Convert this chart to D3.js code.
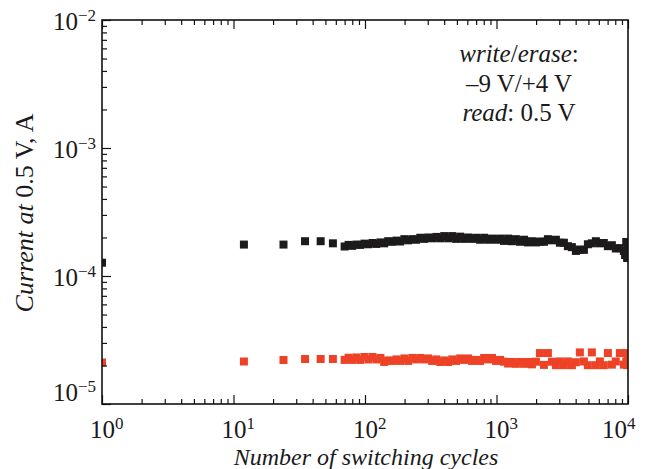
<!DOCTYPE html>
<html>
<head>
<meta charset="utf-8">
<script src="https://cdn.jsdelivr.net/npm/d3@7"></script>
<style>
  html, body { margin: 0; padding: 0; background: #fff; }
  svg { display: block; }
</style>
</head>
<body>
<svg id="chart" width="657" height="469"></svg>
<script>
// ---- data ----
const cycles = [1, 12, 24, 35, 46, 57,
  70, 75, 80, 86, 92, 99, 106, 114, 122, 131,
  140, 150, 161, 173, 185, 199, 213, 229, 245, 263,
  282, 302, 324, 348, 373, 400, 429, 460, 493, 529,
  567, 608, 652, 700, 750, 805, 863, 925, 992, 1065,
  1140, 1225, 1310, 1405, 1510, 1620, 1735, 1860, 1995, 2140,
  2295, 2460, 2640, 2830, 3035, 3255, 3490, 3745, 4015, 4305,
  4620, 4955, 5310, 5700, 6110, 6550, 7030, 7540, 8080, 8670,
  9300, 9500, 9700, 9850, 10000];

const blackCurrent = [1.27e-4, 1.76e-4, 1.76e-4, 1.87e-4, 1.87e-4, 1.80e-4,
  1.70e-4, 1.75e-4, 1.72e-4, 1.76e-4, 1.75e-4, 1.79e-4, 1.77e-4, 1.81e-4, 1.78e-4, 1.83e-4,
  1.80e-4, 1.87e-4, 1.85e-4, 1.89e-4, 1.86e-4, 1.94e-4, 1.90e-4, 1.94e-4, 1.92e-4, 1.99e-4,
  1.95e-4, 2.00e-4, 1.97e-4, 2.02e-4, 1.97e-4, 2.05e-4, 1.97e-4, 2.05e-4, 1.95e-4, 2.03e-4,
  1.95e-4, 2.00e-4, 1.95e-4, 1.99e-4, 1.92e-4, 1.99e-4, 1.92e-4, 1.96e-4, 1.92e-4, 1.96e-4,
  1.88e-4, 1.96e-4, 1.87e-4, 1.94e-4, 1.85e-4, 1.92e-4, 1.83e-4, 1.87e-4, 1.83e-4, 1.86e-4,
  1.85e-4, 1.94e-4, 1.90e-4, 1.92e-4, 1.82e-4, 1.82e-4, 1.71e-4, 1.68e-4, 1.57e-4, 1.61e-4,
  1.60e-4, 1.77e-4, 1.80e-4, 1.87e-4, 1.80e-4, 1.81e-4, 1.71e-4, 1.74e-4, 1.64e-4, 1.65e-4,
  1.568e-4, 1.459e-4, 1.844e-4, 1.382e-4, 1.685e-4];

const redCurrent = [2.11e-5, 2.148e-5, 2.207e-5, 2.247e-5, 2.247e-5, 2.247e-5,
  2.21e-5, 2.30e-5, 2.21e-5, 2.31e-5, 2.21e-5, 2.33e-5, 2.23e-5, 2.33e-5, 2.23e-5, 2.29e-5,
  2.13e-5, 2.19e-5, 2.17e-5, 2.23e-5, 2.17e-5, 2.27e-5, 2.17e-5, 2.29e-5, 2.23e-5, 2.29e-5,
  2.23e-5, 2.27e-5, 2.17e-5, 2.23e-5, 2.13e-5, 2.19e-5, 2.13e-5, 2.23e-5, 2.17e-5, 2.27e-5,
  2.21e-5, 2.27e-5, 2.17e-5, 2.21e-5, 2.17e-5, 2.29e-5, 2.23e-5, 2.29e-5, 2.17e-5, 2.21e-5,
  2.14e-5, 2.07e-5, 2.13e-5, 2.06e-5, 2.13e-5, 2.06e-5, 2.13e-5, 2.04e-5, 2.14e-5, 2.50e-5,
  2.02e-5, 2.50e-5, 2.14e-5, 2.01e-5, 2.15e-5, 2.01e-5, 2.15e-5, 2.01e-5, 2.12e-5, 2.53e-5,
  2.15e-5, 2.01e-5, 2.53e-5, 2.01e-5, 2.15e-5, 2.01e-5, 2.50e-5, 2.03e-5, 2.15e-5, 2.50e-5,
  2.03e-5, 2.50e-5, 2.15e-5, 2.01e-5, 2.25e-5];

const xTickExponents = [0, 1, 2, 3, 4];
const yTickExponents = [-2, -3, -4, -5];
const xTitle = "Number of switching cycles";
const noteLines = [
  [["write", true], ["/", false], ["erase", true], [":", false]],
  [["\u20139 V/+4 V", false]],
  [["read", true], [": 0.5 V", false]]
];

(function () {
// ---- layout ----
const svg = d3.select("#chart");
const pL = 102, pR = 628, pT = 20, pB = 404;
const font = "'Liberation Serif', 'Times New Roman', serif";

const x = d3.scaleLog().domain([1, 1e4]).range([pL, pR]);
const y = d3.scaleLog().domain([1e-5, 1e-2]).range([pB, pT]);

svg.append("defs").append("clipPath").attr("id", "plotClip")
  .append("rect").attr("x", pL).attr("y", pT)
  .attr("width", pR - pL).attr("height", pB - pT);

// points
const pts = svg.append("g").attr("clip-path", "url(#plotClip)");
const sq = 8;
const series = [
  { values: blackCurrent, color: "#1c1a1a" },
  { values: redCurrent, color: "#ee4227" }
];
series.forEach(s => {
  pts.append("g").selectAll("rect")
    .data(cycles.map((c, i) => [c, s.values[i]]))
    .join("rect")
    .attr("x", d => x(d[0]) - sq / 2)
    .attr("y", d => y(d[1]) - sq / 2)
    .attr("width", sq).attr("height", sq)
    .attr("fill", s.color);
});

// axes with inward ticks
const xMajor = xTickExponents.map(e => Math.pow(10, e));
const xMinor = x.ticks().filter(v => !xMajor.some(m => Math.abs(m - v) < 1e-9));
const yMajor = yTickExponents.map(e => Math.pow(10, e));
const yMinor = y.ticks().filter(v => !yMajor.some(m => Math.abs(m - v) / m < 1e-6));

function styleAxis(g) {
  g.select(".domain").remove();
  g.selectAll("text").remove();
  g.selectAll("line").attr("stroke", "#111").attr("stroke-width", 1.2);
}
svg.append("g").attr("transform", `translate(0,${pB})`)
  .call(d3.axisBottom(x).tickValues(xMajor).tickSize(-9).tickFormat("")).call(styleAxis);
svg.append("g").attr("transform", `translate(0,${pB})`)
  .call(d3.axisBottom(x).tickValues(xMinor).tickSize(-5).tickFormat("")).call(styleAxis);
svg.append("g").attr("transform", `translate(0,${pT})`)
  .call(d3.axisTop(x).tickValues(xMajor).tickSize(-9).tickFormat("")).call(styleAxis);
svg.append("g").attr("transform", `translate(0,${pT})`)
  .call(d3.axisTop(x).tickValues(xMinor).tickSize(-5).tickFormat("")).call(styleAxis);
svg.append("g").attr("transform", `translate(${pL},0)`)
  .call(d3.axisLeft(y).tickValues(yMajor).tickSize(-9).tickFormat("")).call(styleAxis);
svg.append("g").attr("transform", `translate(${pL},0)`)
  .call(d3.axisLeft(y).tickValues(yMinor).tickSize(-5).tickFormat("")).call(styleAxis);

// frame
svg.append("rect").attr("x", pL).attr("y", pT)
  .attr("width", pR - pL).attr("height", pB - pT)
  .attr("fill", "none").attr("stroke", "#111").attr("stroke-width", 1.6);

// x tick labels
xTickExponents.forEach((e, i) => {
  const shift = i === xTickExponents.length - 1 ? -26 : -12;
  const t = svg.append("text")
    .attr("x", x(Math.pow(10, e)) + shift).attr("y", 437.5)
    .attr("font-family", font).attr("font-size", 25).attr("fill", "#1a1a1a");
  t.append("tspan").text("10");
  t.append("tspan").attr("dy", -9).attr("font-size", 17).text(String(e));
});

// y tick labels
yTickExponents.forEach((e, i) => {
  const base = y(Math.pow(10, e)) + (i === yTickExponents.length - 1 ? -3 : 10);
  const t = svg.append("text")
    .attr("x", 96).attr("y", base).attr("text-anchor", "end")
    .attr("font-family", font).attr("font-size", 25).attr("fill", "#1a1a1a");
  t.append("tspan").text("10");
  t.append("tspan").attr("dy", -9).attr("font-size", 17).text("\u2212" + Math.abs(e));
});

// axis titles
svg.append("text").attr("x", 366).attr("y", 465)
  .attr("text-anchor", "middle").attr("font-family", font)
  .attr("font-size", 24).attr("font-style", "italic").attr("fill", "#1a1a1a")
  .text(xTitle);

const yt = svg.append("text")
  .attr("transform", `translate(33,213) rotate(-90)`)
  .attr("text-anchor", "middle").attr("font-family", font)
  .attr("font-size", 26).attr("fill", "#1a1a1a");
yt.append("tspan").attr("font-style", "italic").text("Current at ");
yt.append("tspan").text("0.5 V, A");

// annotation
const noteBase = [62, 92, 121];
noteLines.forEach((parts, i) => {
  const t = svg.append("text").attr("x", 519).attr("y", noteBase[i])
    .attr("text-anchor", "middle").attr("font-family", font)
    .attr("font-size", 25).attr("fill", "#1a1a1a");
  parts.forEach(p => {
    t.append("tspan").attr("font-style", p[1] ? "italic" : "normal").text(p[0]);
  });
});
})();
</script>
</body>
</html>
